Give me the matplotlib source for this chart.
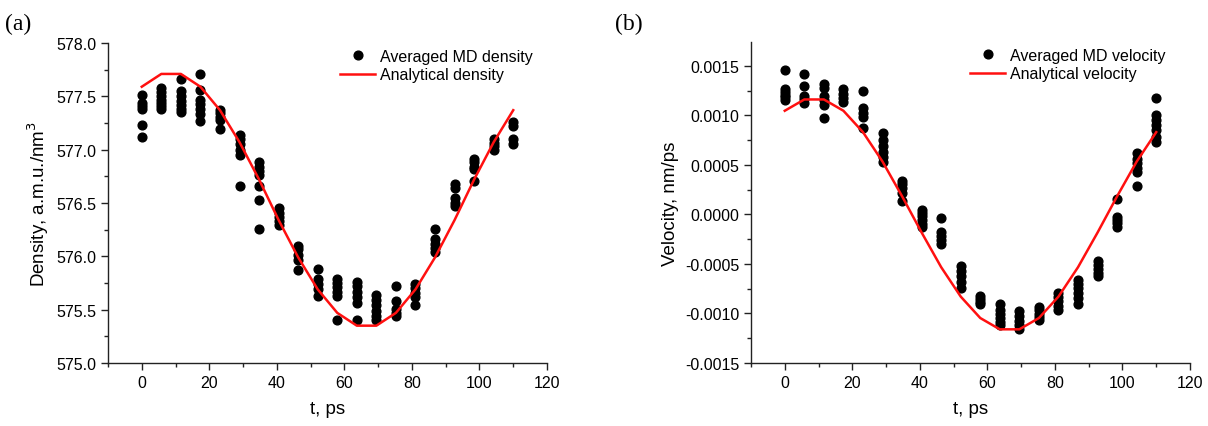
import matplotlib
matplotlib.use("Agg")
import matplotlib.pyplot as plt
from matplotlib.ticker import MultipleLocator, FormatStrFormatter

plt.rcParams['font.family'] = ['Liberation Sans', 'DejaVu Sans']
plt.rcParams['axes.unicode_minus'] = False

# time points (ps)
t = [0.0, 5.79, 11.58, 17.37, 23.16, 28.95, 34.74, 40.53, 46.32, 52.11,
     57.89, 63.68, 69.47, 75.26, 81.05, 86.84, 92.63, 98.42, 104.21, 110.0]

# averaged MD density samples per time point
md_density = [
    [577.51, 577.44, 577.41, 577.38, 577.23, 577.12],
    [577.58, 577.54, 577.50, 577.47, 577.44, 577.41, 577.38],
    [577.66, 577.55, 577.50, 577.46, 577.42, 577.38, 577.35],
    [577.71, 577.56, 577.47, 577.43, 577.38, 577.33, 577.27],
    [577.37, 577.34, 577.31, 577.28, 577.19],
    [577.14, 577.10, 577.05, 577.00, 576.95, 576.66],
    [576.88, 576.84, 576.80, 576.76, 576.66, 576.53, 576.26],
    [576.45, 576.41, 576.37, 576.33, 576.29],
    [576.10, 576.07, 576.01, 575.97, 575.87],
    [575.88, 575.79, 575.74, 575.69, 575.63],
    [575.79, 575.75, 575.71, 575.67, 575.63, 575.40],
    [575.76, 575.72, 575.67, 575.62, 575.56, 575.40],
    [575.64, 575.59, 575.54, 575.49, 575.44, 575.40],
    [575.72, 575.58, 575.51, 575.47, 575.44],
    [575.74, 575.70, 575.66, 575.62, 575.54],
    [576.26, 576.16, 576.12, 576.08, 576.04],
    [576.68, 576.64, 576.55, 576.50, 576.47],
    [576.91, 576.88, 576.84, 576.82, 576.71],
    [577.10, 577.06, 577.03, 577.00],
    [577.26, 577.22, 577.10, 577.05],
]

analytical_density = [577.59, 577.71, 577.71, 577.59, 577.37, 577.07, 576.72,
                      576.34, 575.99, 575.69, 575.47, 575.35, 575.35, 575.47,
                      575.69, 575.99, 576.34, 576.72, 577.07, 577.37]

# averaged MD velocity samples per time point
md_velocity = [
    [0.00146, 0.00127, 0.00124, 0.00121, 0.00118, 0.00115],
    [0.00142, 0.00130, 0.00120, 0.00116, 0.00112],
    [0.00132, 0.00128, 0.00120, 0.00115, 0.00110, 0.00097],
    [0.00127, 0.00122, 0.00117, 0.00113],
    [0.00125, 0.00107, 0.00102, 0.00098, 0.00087],
    [0.00082, 0.00075, 0.00069, 0.00063, 0.00058, 0.00053],
    [0.00034, 0.00031, 0.00027, 0.00022, 0.00014],
    [0.00004, 0.00001, -0.00002, -0.00006, -0.00010, -0.00013],
    [-0.00004, -0.00018, -0.00022, -0.00026, -0.00030],
    [-0.00052, -0.00057, -0.00062, -0.00068, -0.00074],
    [-0.00082, -0.00085, -0.00088, -0.00090],
    [-0.00090, -0.00096, -0.00101, -0.00105, -0.00109, -0.00112],
    [-0.00098, -0.00103, -0.00108, -0.00112, -0.00116],
    [-0.00093, -0.00097, -0.00101, -0.00104, -0.00107],
    [-0.00079, -0.00083, -0.00087, -0.00092, -0.00097],
    [-0.00066, -0.00070, -0.00074, -0.00079, -0.00084, -0.00090],
    [-0.00047, -0.00051, -0.00055, -0.00059, -0.00062],
    [0.00016, -0.00003, -0.00006, -0.00009, -0.00013],
    [0.00062, 0.00056, 0.00052, 0.00047, 0.00043, 0.00029],
    [0.00117, 0.00100, 0.00095, 0.00090, 0.00085, 0.00078, 0.00073],
]

analytical_velocity = [0.001046, 0.00116, 0.00116, 0.001046, 0.00083, 0.000533,
                       0.000183, -0.000183, -0.000533, -0.00083, -0.001046,
                       -0.00116, -0.00116, -0.001046, -0.00083, -0.000533,
                       -0.000183, 0.000183, 0.000533, 0.00083]

fig = plt.figure(figsize=(12.08, 4.27), dpi=100)
W, H = 1208, 427
axA = fig.add_axes([108 / W, (H - 364) / H, 439 / W, 320 / H])
axB = fig.add_axes([751 / W, (H - 364) / H, 439 / W, 321 / H])


def flat(ts, groups):
    xs, ys = [], []
    for ti, g in zip(ts, groups):
        for v in g:
            xs.append(ti)
            ys.append(v)
    return xs, ys


def style(ax):
    for s in ['top', 'right']:
        ax.spines[s].set_visible(False)
    for s in ['left', 'bottom']:
        ax.spines[s].set_linewidth(1.0)
        ax.spines[s].set_color('#222222')
    ax.set_xlim(-10, 120)
    ax.xaxis.set_major_locator(MultipleLocator(20))
    ax.xaxis.set_minor_locator(MultipleLocator(10))
    ax.tick_params(which='major', direction='out', length=5, width=1.0,
                   labelsize=11.5, colors='#222222', labelcolor='black')
    ax.tick_params(which='minor', direction='out', length=3, width=1.0,
                   colors='#222222')
    ax.set_xlabel('t, ps', fontsize=13.5, labelpad=7)


xs, ys = flat(t, md_density)
axA.plot(xs, ys, 'o', color='black', markersize=6.3, label='Averaged MD density')
axA.plot(t, analytical_density, '-', color='#ff1010', lw=1.8, label='Analytical density')
style(axA)
axA.set_ylim(575.0, 578.0)
axA.yaxis.set_major_locator(MultipleLocator(0.5))
axA.yaxis.set_minor_locator(MultipleLocator(0.25))
axA.yaxis.set_major_formatter(FormatStrFormatter('%.1f'))
axA.set_ylabel('Density, a.m.u./nm$^3$', fontsize=13.5)

xs, ys = flat(t, md_velocity)
axB.plot(xs, ys, 'o', color='black', markersize=6.3, label='Averaged MD velocity')
axB.plot(t, analytical_velocity, '-', color='#ff1010', lw=1.8, label='Analytical velocity')
style(axB)
axB.set_ylim(-0.0015, 0.00174)
axB.yaxis.set_major_locator(MultipleLocator(0.0005))
axB.yaxis.set_minor_locator(MultipleLocator(0.00025))
axB.yaxis.set_major_formatter(FormatStrFormatter('%.4f'))
axB.set_ylabel('Velocity, nm/ps', fontsize=13.5)

for ax, x0 in [(axA, 340), (axB, 970)]:
    x_left = 108 if ax is axA else 751
    ax.legend(loc='upper left', bbox_to_anchor=((x0 - x_left) / 439, 1 - 6 / 320),
              frameon=False, fontsize=11.5, handlelength=2.2, handletextpad=0.3,
              labelspacing=0.2, borderpad=0, borderaxespad=0)

fig.text(5 / W, 1 - 30 / H, '(a)', fontsize=17, family='Liberation Serif')
fig.text(615 / W, 1 - 30 / H, '(b)', fontsize=17, family='Liberation Serif')

fig.savefig('out.png', dpi=100)
